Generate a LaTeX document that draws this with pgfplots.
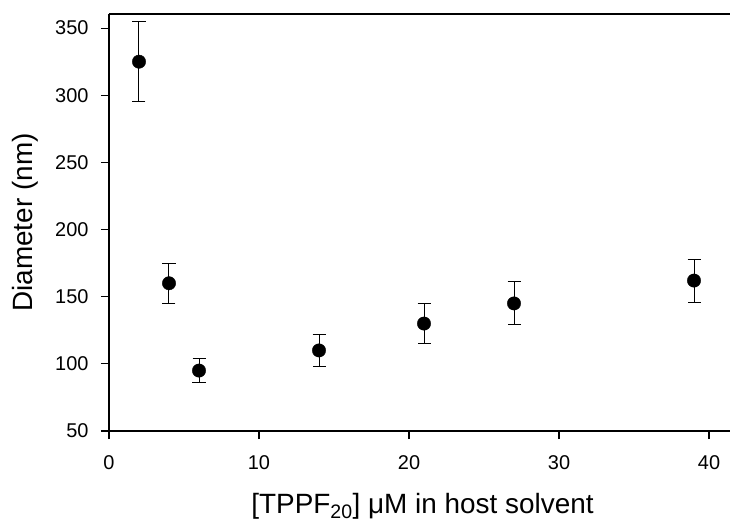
\documentclass[border=0pt]{standalone}
\usepackage{fontspec}
\setmainfont{Liberation Sans}
\usepackage{pgfplots}
\pgfplotsset{compat=1.18}
\begin{document}
\begin{tikzpicture}
\begin{axis}[
  width=621bp, height=417bp, scale only axis,
  xmin=0, xmax=41.4, ymin=50, ymax=360.5,
  axis lines*=left,
  axis line style={-, line width=1.6bp},
  tick align=outside,
  major tick length=8bp,
  tick style={line width=1.1bp, black},
  xtick={0,10,20,30,40},
  ytick={50,100,150,200,250,300,350},
  minor tick num=0,
  /pgf/number format/assume math mode=true,
  tick label style={font=\fontsize{20}{23}\selectfont},
  yticklabel style={xshift=-9bp},
  xticklabel style={yshift=-13bp},
  label style={font=\fontsize{28}{33}\selectfont},
  xlabel={[TPPF\textsubscript{20}] μM in host solvent},
  ylabel={Diameter (nm)},
  xlabel style={at={(rel axis cs:0.5,0)}, anchor=base, yshift=-82bp, xshift=3bp},
  ylabel style={at={(rel axis cs:0,0.5)}, anchor=base, yshift=76bp},
]
\addplot[
  only marks, mark=*, mark size=6.7bp, black,
  error bars/.cd, y dir=both, y explicit,
  error bar style={line width=1bp, black},
  error mark options={rotate=90, mark size=6.5bp, line width=1bp, black},
] table[x=x, y=y, y error=e] {
x y e
2 325 30
4 160 15
6 95 9
14 110 12
21 130 15
27 145 16
39 162 16
};
\draw[line width=1.6bp] (rel axis cs:0,1) -- (rel axis cs:1.01,1);
\coordinate (bl) at (rel axis cs:0,0);
\coordinate (tr) at (rel axis cs:1,1);
\end{axis}
\pgfresetboundingbox
\path[use as bounding box] ([xshift=-109bp,yshift=-90bp]bl) rectangle ([yshift=14bp]tr);
\end{tikzpicture}
\end{document}
